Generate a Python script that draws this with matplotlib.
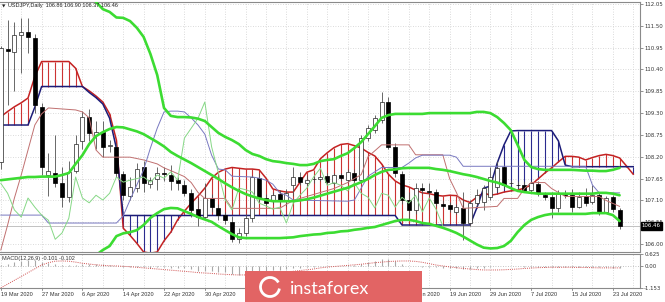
import matplotlib.pyplot as plt
import numpy as np
from matplotlib.patches import Rectangle, Arc

plt.rcParams['font.family'] = ['DejaVu Sans']
NARROW = ['Liberation Sans Narrow', 'Liberation Sans', 'DejaVu Sans']

# --- daily candles, 19 Mar 2020 .. 24 Jul 2020 (92 bars) ---
open_ = [108.07, 110.92, 110.84, 111.27, 111.34, 111.20, 109.45, 107.75, 107.80, 107.55,
         107.18, 107.85, 108.60, 109.20, 108.75, 108.82, 108.48, 108.45, 107.77, 107.21,
         107.42, 107.94, 107.52, 107.64, 107.78, 107.74, 107.61, 107.50, 107.28, 106.88,
         106.68, 107.16, 106.90, 106.73, 106.55, 106.13, 106.28, 106.65, 107.66, 107.16,
         107.11, 107.26, 107.11, 107.48, 107.69, 107.54, 107.63, 107.64, 107.71, 107.54,
         107.74, 107.61, 107.79, 107.61, 108.67, 108.87, 109.12, 109.58, 108.45, 107.76,
         107.11, 106.86, 107.41, 107.33, 107.31, 107.01, 106.98, 106.81, 106.91, 106.53,
         107.03, 107.06, 107.18, 107.44, 107.94, 107.53, 107.50, 107.49, 107.36, 107.51,
         107.23, 107.18, 106.91, 107.28, 107.23, 106.93, 107.21, 107.06, 107.23, 106.81,
         107.18, 106.86]
high = [110.98, 111.65, 111.60, 111.70, 111.70, 111.30, 109.55, 108.30, 108.75, 107.95,
        108.10, 108.75, 109.35, 109.40, 109.10, 109.10, 108.62, 108.55, 107.85, 107.70,
        108.05, 108.10, 107.70, 107.95, 107.95, 108.00, 107.70, 107.62, 107.38, 107.15,
        107.55, 107.25, 107.00, 106.80, 106.70, 106.40, 106.75, 107.75, 107.80, 107.25,
        107.30, 107.35, 107.40, 107.95, 107.82, 107.75, 107.72, 107.75, 107.80, 107.80,
        107.80, 107.90, 107.88, 108.75, 109.00, 109.25, 109.83, 109.70, 108.55, 107.85,
        107.30, 107.55, 107.55, 107.55, 107.40, 107.10, 107.05, 107.00, 107.30, 107.10,
        107.40, 107.50, 107.94, 108.10, 108.00, 107.62, 107.58, 107.60, 107.62, 107.60,
        107.30, 107.31, 107.36, 107.35, 107.40, 107.30, 107.41, 107.50, 107.30, 107.22,
        107.24, 106.90]
low = [107.90, 109.50, 109.85, 110.30, 110.81, 109.30, 107.75, 107.20, 107.45, 106.93,
       107.05, 107.80, 108.40, 108.60, 108.40, 108.20, 108.32, 107.70, 107.10, 107.10,
       107.30, 107.30, 107.42, 107.35, 107.60, 107.35, 107.35, 107.20, 106.68, 106.45,
       106.60, 106.80, 106.60, 106.50, 106.05, 106.03, 106.20, 106.55, 107.05, 106.95,
       107.00, 107.00, 106.95, 107.20, 107.50, 107.45, 107.55, 107.58, 107.50, 107.48,
       107.60, 107.55, 107.55, 107.55, 108.60, 108.80, 109.05, 108.40, 107.70, 107.00,
       106.60, 106.75, 107.25, 107.20, 106.95, 106.90, 106.80, 106.75, 106.10, 106.45,
       106.95, 106.86, 107.10, 107.30, 107.40, 107.48, 107.42, 107.30, 107.30, 107.20,
       107.10, 106.66, 106.80, 107.15, 106.82, 106.90, 106.95, 107.00, 106.72, 106.78,
       106.80, 106.37]
close = [110.94, 110.87, 111.27, 111.34, 111.22, 109.50, 107.94, 107.83, 107.55, 107.18,
         107.82, 108.52, 109.20, 108.80, 108.82, 108.45, 108.50, 107.80, 107.23, 107.45,
         107.90, 107.54, 107.62, 107.80, 107.76, 107.60, 107.53, 107.28, 106.86, 106.68,
         107.16, 106.93, 106.73, 106.60, 106.12, 106.28, 106.65, 107.69, 107.16, 107.04,
         107.23, 107.11, 107.28, 107.69, 107.56, 107.61, 107.65, 107.69, 107.56, 107.74,
         107.66, 107.82, 107.61, 108.67, 108.92, 109.17, 109.58, 108.45, 107.79, 107.11,
         106.86, 107.41, 107.37, 107.31, 107.03, 106.96, 106.88, 106.93, 106.53, 107.03,
         107.23, 107.41, 107.69, 107.91, 107.48, 107.55, 107.48, 107.34, 107.54, 107.28,
         107.18, 106.91, 107.28, 107.23, 106.93, 107.18, 107.03, 107.23, 106.81, 107.16,
         106.88, 106.46]

# --- Ichimoku cloud (94 values, runs 2 bars past the last candle) ---
span_a = [109.21, 109.34, 109.46, 109.56, 109.68, 110.22, 110.60, 110.60, 110.60, 110.60,
          110.60, 110.43, 109.97, 109.86, 109.73, 109.58, 109.28, 108.62, 106.40, 106.22,
          106.02, 105.80, 105.77, 105.80, 106.08, 106.30, 106.61, 106.83, 107.03, 107.21,
          107.41, 107.66, 107.81, 107.89, 107.93, 107.91, 107.89, 107.89, 107.87, 107.66,
          107.39, 107.34, 107.31, 107.31, 107.56, 107.81, 107.87, 108.15, 108.30, 108.43,
          108.51, 108.53, 108.48, 108.42, 108.31, 108.22, 108.02, 107.76, 107.59, 107.49,
          107.44, 107.36, 107.29, 107.27, 107.23, 107.21, 107.23, 107.22, 107.11, 107.05,
          107.18, 107.29, 107.23, 107.26, 107.31, 107.34, 107.36, 107.41, 107.49, 107.64,
          107.79, 107.92, 108.07, 108.21, 108.21, 108.19, 108.12, 108.18, 108.23, 108.26,
          108.23, 108.17, 107.97, 107.76]
span_b = [109.00, 109.00, 109.00, 109.00, 109.00, 109.45, 109.97, 109.97, 109.97, 109.97,
          109.97, 109.97, 109.97, 109.82, 109.69, 109.53, 109.17, 108.41, 106.72, 106.72,
          106.72, 106.72, 106.72, 106.72, 106.72, 106.72, 106.72, 106.72, 106.72, 106.72,
          106.72, 106.72, 106.72, 106.72, 106.72, 106.72, 106.72, 106.72, 106.72, 106.72,
          106.72, 106.72, 106.72, 106.72, 106.72, 106.72, 106.72, 106.72, 106.72, 106.72,
          106.72, 106.72, 106.72, 106.72, 106.72, 106.72, 106.72, 106.72, 106.72, 106.48,
          106.48, 106.48, 106.48, 106.48, 106.48, 106.48, 106.48, 106.48, 106.48, 106.48,
          106.91, 107.41, 107.46, 108.04, 108.50, 108.85, 108.86, 108.86, 108.86, 108.86,
          108.86, 108.86, 108.60, 107.99, 107.95, 107.95, 107.95, 107.95, 107.95, 107.95,
          107.95, 107.95, 107.95, 107.95]

# tenkan / kijun, read as break points (bar index, price)
tenkan_i = [0, 1, 2, 3, 4, 5, 6, 7, 11, 12, 13, 14, 15, 19, 21, 23, 24, 25, 27, 28, 29, 30,
            33, 34, 41, 42, 43, 45, 47, 49, 51, 53, 54, 55, 56, 60, 61, 65, 66, 67, 68, 73,
            74, 76, 77, 78, 80, 81, 83, 88, 89, 91]
tenkan_v = [105.85, 106.48, 107.16, 107.74, 108.37, 109.00, 109.28, 109.43, 109.38, 109.33,
            109.18, 108.37, 108.19, 108.19, 108.12, 108.02, 107.92, 107.85, 107.70, 107.55,
            107.30, 107.15, 107.15, 106.90, 106.90, 107.00, 107.10, 107.20, 107.30, 107.40,
            107.55, 107.75, 108.20, 108.35, 108.50, 108.50, 108.25, 108.25, 107.65, 107.30,
            106.90, 106.95, 107.15, 107.15, 107.40, 107.55, 107.55, 107.40, 107.20, 107.20,
            107.10, 106.95]
kijun_i = [0, 6, 7, 17, 18, 19, 20, 21, 22, 23, 24, 25, 26, 27, 28, 29, 30, 31, 32, 33, 34,
           37, 38, 39, 40, 41, 42, 43, 51, 52, 53, 54, 55, 56, 59, 60, 61, 62, 66, 67, 68,
           86, 87, 88, 91]
kijun_v = [106.73, 106.73, 106.53, 106.53, 106.71, 107.11, 107.49, 107.87, 108.42, 108.92,
           109.33, 109.35, 109.35, 109.33, 109.18, 109.00, 108.77, 108.24, 107.89, 107.87,
           107.71, 107.69, 107.66, 107.61, 107.51, 107.29, 107.23, 107.11, 107.08, 107.11,
           107.41, 107.71, 107.82, 107.93, 107.93, 108.04, 108.17, 108.24, 108.24, 108.19,
           107.96, 107.96, 107.49, 107.29, 107.29]

# --- Bollinger bands (20) ---
bb_upper = [115.60, 115.50, 115.30, 115.00, 114.70, 114.40, 114.00, 113.70, 113.40, 113.10,
            112.95, 112.85, 112.60, 112.35, 112.10, 111.92, 111.85, 111.71, 111.70, 111.62,
            111.45, 111.22, 110.79, 110.26, 109.43, 109.23, 109.20, 109.20, 109.19, 109.16,
            109.10, 108.95, 108.80, 108.70, 108.62, 108.52, 108.37, 108.27, 108.22, 108.14,
            108.09, 108.07, 108.04, 108.02, 107.99, 107.99, 108.02, 108.09, 108.12, 108.14,
            108.22, 108.29, 108.42, 108.57, 108.77, 108.97, 109.18, 109.25, 109.28, 109.28,
            109.28, 109.28, 109.28, 109.30, 109.30, 109.30, 109.30, 109.30, 109.30, 109.30,
            109.33, 109.33, 109.30, 109.20, 109.05, 108.87, 108.50, 108.12, 107.94, 107.89,
            107.87, 107.87, 107.87, 107.87, 107.87, 107.86, 107.85, 107.85, 107.84, 107.84,
            107.87, 107.92]
bb_mid = [107.61, 107.63, 107.65, 107.67, 107.69, 107.69, 107.70, 107.70, 107.70, 107.74,
          107.79, 108.02, 108.24, 108.52, 108.72, 108.82, 108.90, 108.95, 108.94, 108.89,
          108.84, 108.77, 108.67, 108.57, 108.46, 108.32, 108.22, 108.13, 108.04, 107.94,
          107.84, 107.74, 107.64, 107.53, 107.43, 107.34, 107.26, 107.20, 107.15, 107.11,
          107.08, 107.08, 107.08, 107.08, 107.10, 107.13, 107.17, 107.22, 107.27, 107.32,
          107.37, 107.42, 107.49, 107.56, 107.64, 107.74, 107.82, 107.87, 107.88, 107.91,
          107.92, 107.92, 107.92, 107.92, 107.89, 107.87, 107.84, 107.80, 107.76, 107.73,
          107.69, 107.64, 107.59, 107.55, 107.49, 107.41, 107.34, 107.31, 107.29, 107.27,
          107.27, 107.27, 107.27, 107.27, 107.27, 107.27, 107.27, 107.27, 107.29, 107.29,
          107.27, 107.23]
bb_lower = [99.60, 99.80, 100.10, 100.40, 100.70, 101.00, 101.40, 101.80, 102.30, 102.80,
            103.60, 104.50, 105.10, 105.50, 105.72, 105.85, 105.95, 106.20, 106.27, 106.30,
            106.35, 106.48, 106.66, 106.78, 106.88, 106.91, 106.90, 106.83, 106.76, 106.68,
            106.62, 106.56, 106.45, 106.35, 106.25, 106.17, 106.15, 106.15, 106.15, 106.15,
            106.15, 106.15, 106.16, 106.17, 106.20, 106.22, 106.24, 106.25, 106.28, 106.29,
            106.32, 106.33, 106.36, 106.38, 106.41, 106.43, 106.48, 106.53, 106.58, 106.61,
            106.61, 106.58, 106.53, 106.51, 106.46, 106.41, 106.35, 106.28, 106.19, 106.09,
            105.99, 105.91, 105.89, 105.90, 105.95, 106.08, 106.30, 106.48, 106.61, 106.68,
            106.73, 106.76, 106.76, 106.76, 106.76, 106.76, 106.76, 106.78, 106.78, 106.78,
            106.73, 106.58]

# --- MACD(12,26,9) ---
macd_main = [0.05, 0.12, 0.20, 0.28, 0.33, 0.30, 0.22, 0.16, 0.10, 0.05,
             0.03, 0.06, 0.12, 0.12, 0.11, 0.08, 0.05, 0.00, -0.06, -0.08,
             -0.07, -0.08, -0.09, -0.08, -0.08, -0.09, -0.10, -0.13, -0.18, -0.24,
             -0.24, -0.26, -0.30, -0.34, -0.42, -0.45, -0.42, -0.30, -0.27, -0.25,
             -0.22, -0.20, -0.17, -0.12, -0.10, -0.07, -0.05, -0.02, 0.00, 0.01,
             0.02, 0.04, 0.04, 0.12, 0.20, 0.28, 0.38, 0.35, 0.25, 0.12,
             0.02, 0.00, -0.03, -0.05, -0.08, -0.10, -0.12, -0.13, -0.17, -0.16,
             -0.13, -0.10, -0.06, -0.02, -0.02, -0.02, -0.02, -0.03, -0.03, -0.04,
             -0.05, -0.07, -0.06, -0.06, -0.07, -0.07, -0.07, -0.06, -0.08, -0.08,
             -0.09, -0.101]
macd_signal = [-1.15, -0.95, -0.75, -0.55, -0.35, -0.15, 0.05, 0.17, 0.25, 0.26,
               0.25, 0.20, 0.14, 0.10, 0.06, 0.03, 0.01, 0.00, -0.02, -0.04,
               -0.07, -0.10, -0.13, -0.16, -0.19, -0.22, -0.25, -0.28, -0.31, -0.35,
               -0.37, -0.39, -0.42, -0.44, -0.46, -0.47, -0.47, -0.46, -0.44, -0.42,
               -0.39, -0.36, -0.32, -0.28, -0.24, -0.20, -0.16, -0.10, -0.06, -0.03,
               0.00, 0.03, 0.06, 0.09, 0.13, 0.17, 0.20, 0.23, 0.25, 0.26,
               0.26, 0.24, 0.19, 0.12, 0.05, 0.00, -0.05, -0.09, -0.13, -0.16,
               -0.19, -0.21, -0.21, -0.21, -0.20, -0.18, -0.16, -0.13, -0.11, -0.09,
               -0.08, -0.07, -0.07, -0.07, -0.07, -0.08, -0.08, -0.09, -0.10, -0.10,
               -0.10, -0.102]

date_labels = ['19 Mar 2020', '27 Mar 2020', '6 Apr 2020', '14 Apr 2020', '22 Apr 2020',
               '30 Apr 2020', '8 May 2020', '18 May 2020', '26 May 2020', '3 Jun 2020',
               '11 Jun 2020', '19 Jun 2020', '29 Jun 2020', '7 Jul 2020', '15 Jul 2020',
               '23 Jul 2020']
date_pos = [0, 6, 12, 18, 24, 30, 36, 42, 48, 54, 60, 66, 72, 78, 84, 90]
price_ticks = [112.05, 111.50, 110.95, 110.40, 109.85, 109.30, 108.75, 108.20,
               107.65, 107.10, 106.55, 106.00]
last_price = 106.46

W, H = 665, 302
fig = plt.figure(figsize=(W / 100, H / 100), dpi=100)
fig.patch.set_facecolor('white')
ax = fig.add_axes([0, 50 / H, 640 / W, 250 / H])
mx = fig.add_axes([0, 14 / H, 640 / W, 34 / H])

n = len(close)
idx = np.arange(n)
cidx = np.arange(len(span_a))
xlim = (-0.12, 94.0)

grid_kw = dict(color='#cfcfcf', lw=0.6, ls=(0, (1, 2)), zorder=0)
for a in (ax, mx):
    a.set_xlim(*xlim)
    for g in range(0, 94, 3):
        a.axvline(g, **grid_kw)
    a.spines['left'].set_visible(False)
    for s in ('top', 'right', 'bottom'):
        a.spines[s].set_color('#8a8a8a')
        a.spines[s].set_linewidth(0.8)
    a.set_xticks([])
    a.yaxis.tick_right()
    a.tick_params(axis='y', length=2, width=0.5, color='#666666', labelsize=3.9,
                  labelcolor='#333333', pad=1.0)

ax.set_ylim(105.80, 112.10)
ax.set_yticks(price_ticks)
ax.set_yticklabels([f'{p:.2f}' for p in price_ticks])
for p in price_ticks:
    ax.axhline(p, **grid_kw)

# cloud hatching and spans
a_arr, b_arr = np.array(span_a), np.array(span_b)
hcol = np.where(a_arr >= b_arr, '#cc3333', '#2b2b8f')
ax.vlines(cidx, a_arr, b_arr, colors=hcol, lw=0.8, zorder=2)
ax.plot(cidx, span_a, color='#c42222', lw=1.1, zorder=2.5)
ax.plot(cidx, span_b, color='#1c1c78', lw=1.1, zorder=2.5)

# bid line
ax.axhline(last_price, color='#b8b8b8', lw=0.6, zorder=1)

# candles
o, h, l, c = map(np.array, (open_, high, low, close))
ax.vlines(idx, l, h, colors='#505050', lw=0.6, zorder=3)
up = c >= o
body_lo = np.minimum(o, c)
body_h = np.maximum(np.abs(c - o), 0.02)
ax.bar(idx[up], body_h[up], bottom=body_lo[up], width=0.58, color='white',
       edgecolor='#222222', linewidth=0.5, zorder=3.2)
ax.bar(idx[~up], body_h[~up], bottom=body_lo[~up], width=0.58, color='black',
       edgecolor='black', linewidth=0.5, zorder=3.2)

# tenkan, kijun, chikou
ax.plot(tenkan_i, tenkan_v, color='#c07070', lw=0.7, zorder=3.5)
ax.plot(kijun_i, kijun_v, color='#7878c0', lw=0.7, zorder=3.5)
ax.plot(idx[:n - 26], close[26:], color='#86d886', lw=0.7, zorder=3.5)

# bollinger
for band in (bb_upper, bb_mid, bb_lower):
    ax.plot(idx, band, color='#3cdc32', lw=1.9, zorder=4, solid_capstyle='round')

# current price box
ax.text(1.003, last_price, f'{last_price:.2f}', transform=ax.get_yaxis_transform(),
        fontsize=3.9, color='white', va='center', ha='left', clip_on=False, zorder=6,
        bbox=dict(boxstyle='square,pad=0.25', fc='black', ec='black'))

# title
fig.text(2 / W, 1 - 6 / H, '\u25bc', fontsize=3.2, va='center', ha='left', color='#222222')
fig.text(8 / W, 1 - 5.5 / H, 'USDJPY,Daily  106.86 106.90 106.37 106.46', fontsize=4.0,
         va='center', ha='left', color='#222222', family=NARROW)

# MACD panel
macd_ticks = [0.625, 0.0, -1.153]
mx.set_ylim(-1.153, 0.625)
mx.set_yticks(macd_ticks)
mx.set_yticklabels(['0.625', '0.00', '-1.153'])
mx.axhline(0, color='#b0b0b0', lw=0.6, ls=(0, (1, 2)), zorder=1)
mx.vlines(idx, 0, macd_main, colors='#a8a8a8', lw=0.8, zorder=2)
mx.plot(idx, macd_signal, color='#d05050', lw=0.7, ls=(0, (1, 1.2)), zorder=3)
mx.text(2 / 640, 0.88, 'MACD(12,26,9) -0.101 -0.102', transform=mx.transAxes,
        fontsize=4.0, color='#333333', va='center', ha='left', family=NARROW)

for pos, lab in zip(date_pos, date_labels):
    mx.text(pos, -0.2, lab, transform=mx.get_xaxis_transform(), fontsize=4.1,
            color='#333333', va='center', ha='left', clip_on=False, family=NARROW)
    mx.plot([pos, pos], [0.0, -0.07], transform=mx.get_xaxis_transform(),
            color='#666666', lw=0.5, clip_on=False)

# watermark logo
fig.add_artist(Rectangle((245 / W, 0), 177 / W, 31 / H, transform=fig.transFigure,
                         facecolor='#e26464', edgecolor='none', zorder=10))
fig.add_artist(Arc((270 / W, 15 / H), 19 / W, 19 / H, theta1=50, theta2=340,
                   transform=fig.transFigure, color='white', lw=2.0, zorder=11))
fig.text(290 / W, 8 / H, 'instaforex', fontsize=13, color='white', va='baseline',
         ha='left', zorder=11, family=['Lato', 'DejaVu Sans'])

fig.savefig('out.png', dpi=100, facecolor='white')
